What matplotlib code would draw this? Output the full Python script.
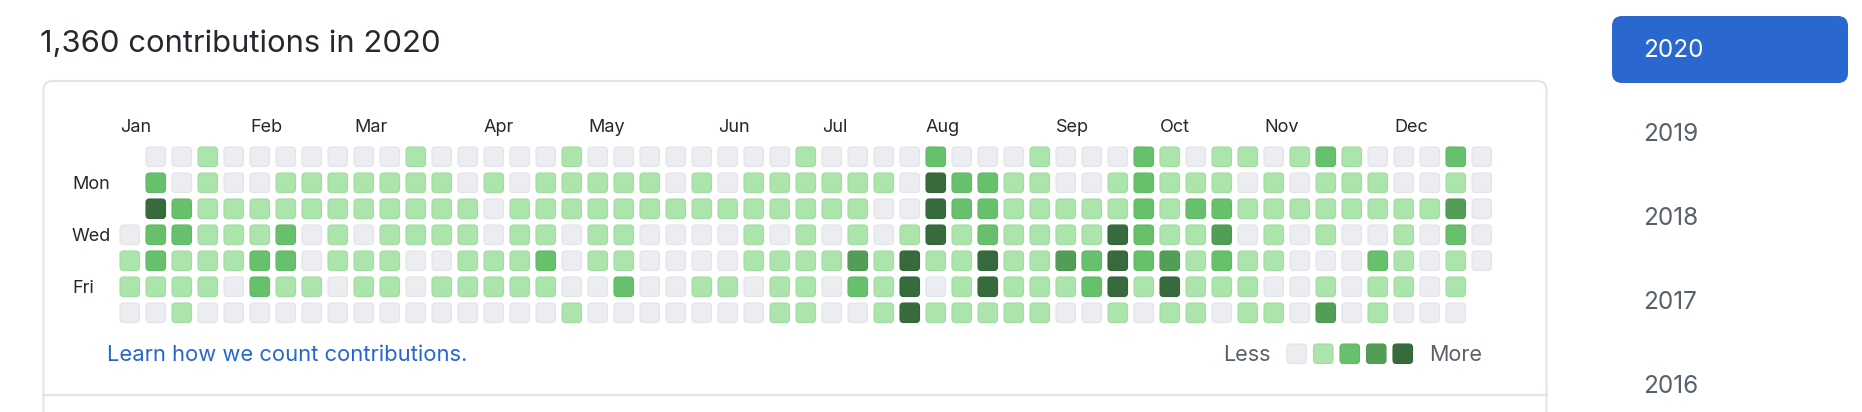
import matplotlib.pyplot as plt
from matplotlib.patches import FancyBboxPatch

plt.rcParams['font.family'] = ['Inter', 'DejaVu Sans']

# --- data: contribution level (0-4) per weekday row, one char per week column ---
# ' ' means that day is outside 2020
sun = " 001000000010000010000000010000200010002101101210002" + "0"
mon = " 20100111111101011111010111111042211001" + "21110101110010"
tue = " 42111111111110111111111111110042211111" + "21221111111130"
wed = "022111201011110110110000101010141211114" + "21130101001020"
thu = "121112201110011120110000111131411411324" + "23121100021010"
fri = "1111021101101111100200110110214014111241411100101101 "
sat = "0010000000000000010000000110014111110010110110301000 "
rows = [sun, mon, tue, wed, thu, fri, sat]

months = ['Jan', 'Feb', 'Mar', 'Apr', 'May', 'Jun',
          'Jul', 'Aug', 'Sep', 'Oct', 'Nov', 'Dec']
month_cols = [0, 5, 9, 14, 18, 23, 27, 31, 36, 40, 44, 49]
day_labels = {1: 'Mon', 3: 'Wed', 5: 'Fri'}
years = ['2020', '2019', '2018', '2017', '2016']
total = '1,360'

level_colors = ['#ebedf0', '#abe5ac', '#67c06b', '#539e57', '#376b3d']
edge_colors = ['#e2e4e9', '#a2dca3', '#61b865', '#4f9753', '#346639']

# --- layout (pixels) ---
W, H = 1862, 412
fig = plt.figure(figsize=(W / 100, H / 100), dpi=100)
ax = fig.add_axes([0, 0, 1, 1])
ax.set_xlim(0, W)
ax.set_ylim(H, 0)
ax.axis('off')

x0, y0, step, size = 120, 147, 26, 19.5


def cell(x, y, lvl):
    ax.add_patch(FancyBboxPatch((x, y), size, size,
                                boxstyle='round,pad=0,rounding_size=3.5',
                                fc=level_colors[lvl], ec=edge_colors[lvl], lw=0.8))


ax.text(40, 44, f'{total} contributions in 2020', fontsize=22.3,
        color='#24292e', va='center', ha='left')

# outer box
ax.add_patch(FancyBboxPatch((43.5, 81), 1503, 400,
                            boxstyle='round,pad=0,rounding_size=9',
                            fc='white', ec='#e1e4e8', lw=1.5))
ax.plot([43.5, 1546.5], [394.5, 394.5], color='#e1e4e8', lw=1.5)

for r, row in enumerate(rows):
    for c, ch in enumerate(row):
        if ch == ' ':
            continue
        cell(x0 + step * c, y0 + step * r, int(ch))

for m, c in zip(months, month_cols):
    ax.text(x0 + step * c, 127, m, fontsize=13, color='#24292e',
            va='center', ha='left')

for r, lab in day_labels.items():
    ax.text(72, y0 + step * r + size / 2 + 1.5, lab, fontsize=13,
            color='#24292e', va='center', ha='left')

ax.text(107, 355, 'Learn how we count contributions.', fontsize=15.8,
        color='#2766cf', va='center', ha='left')

ax.text(1223, 355, 'Less', fontsize=15.5, color='#586069', va='center', ha='left')
for i in range(5):
    cell(1287 + 26.5 * i, 344, i)
ax.text(1429, 355, 'More', fontsize=15.5, color='#586069', va='center', ha='left')

# year selector
ax.add_patch(FancyBboxPatch((1612, 16), 236, 67,
                            boxstyle='round,pad=0,rounding_size=10',
                            fc='#2a68d0', ec='none'))
for i, yr in enumerate(years):
    ax.text(1643, 50 + 84.2 * i, yr, fontsize=17.5,
            color='white' if i == 0 else '#586069', va='center', ha='left')

fig.savefig('out.png', dpi=100)
